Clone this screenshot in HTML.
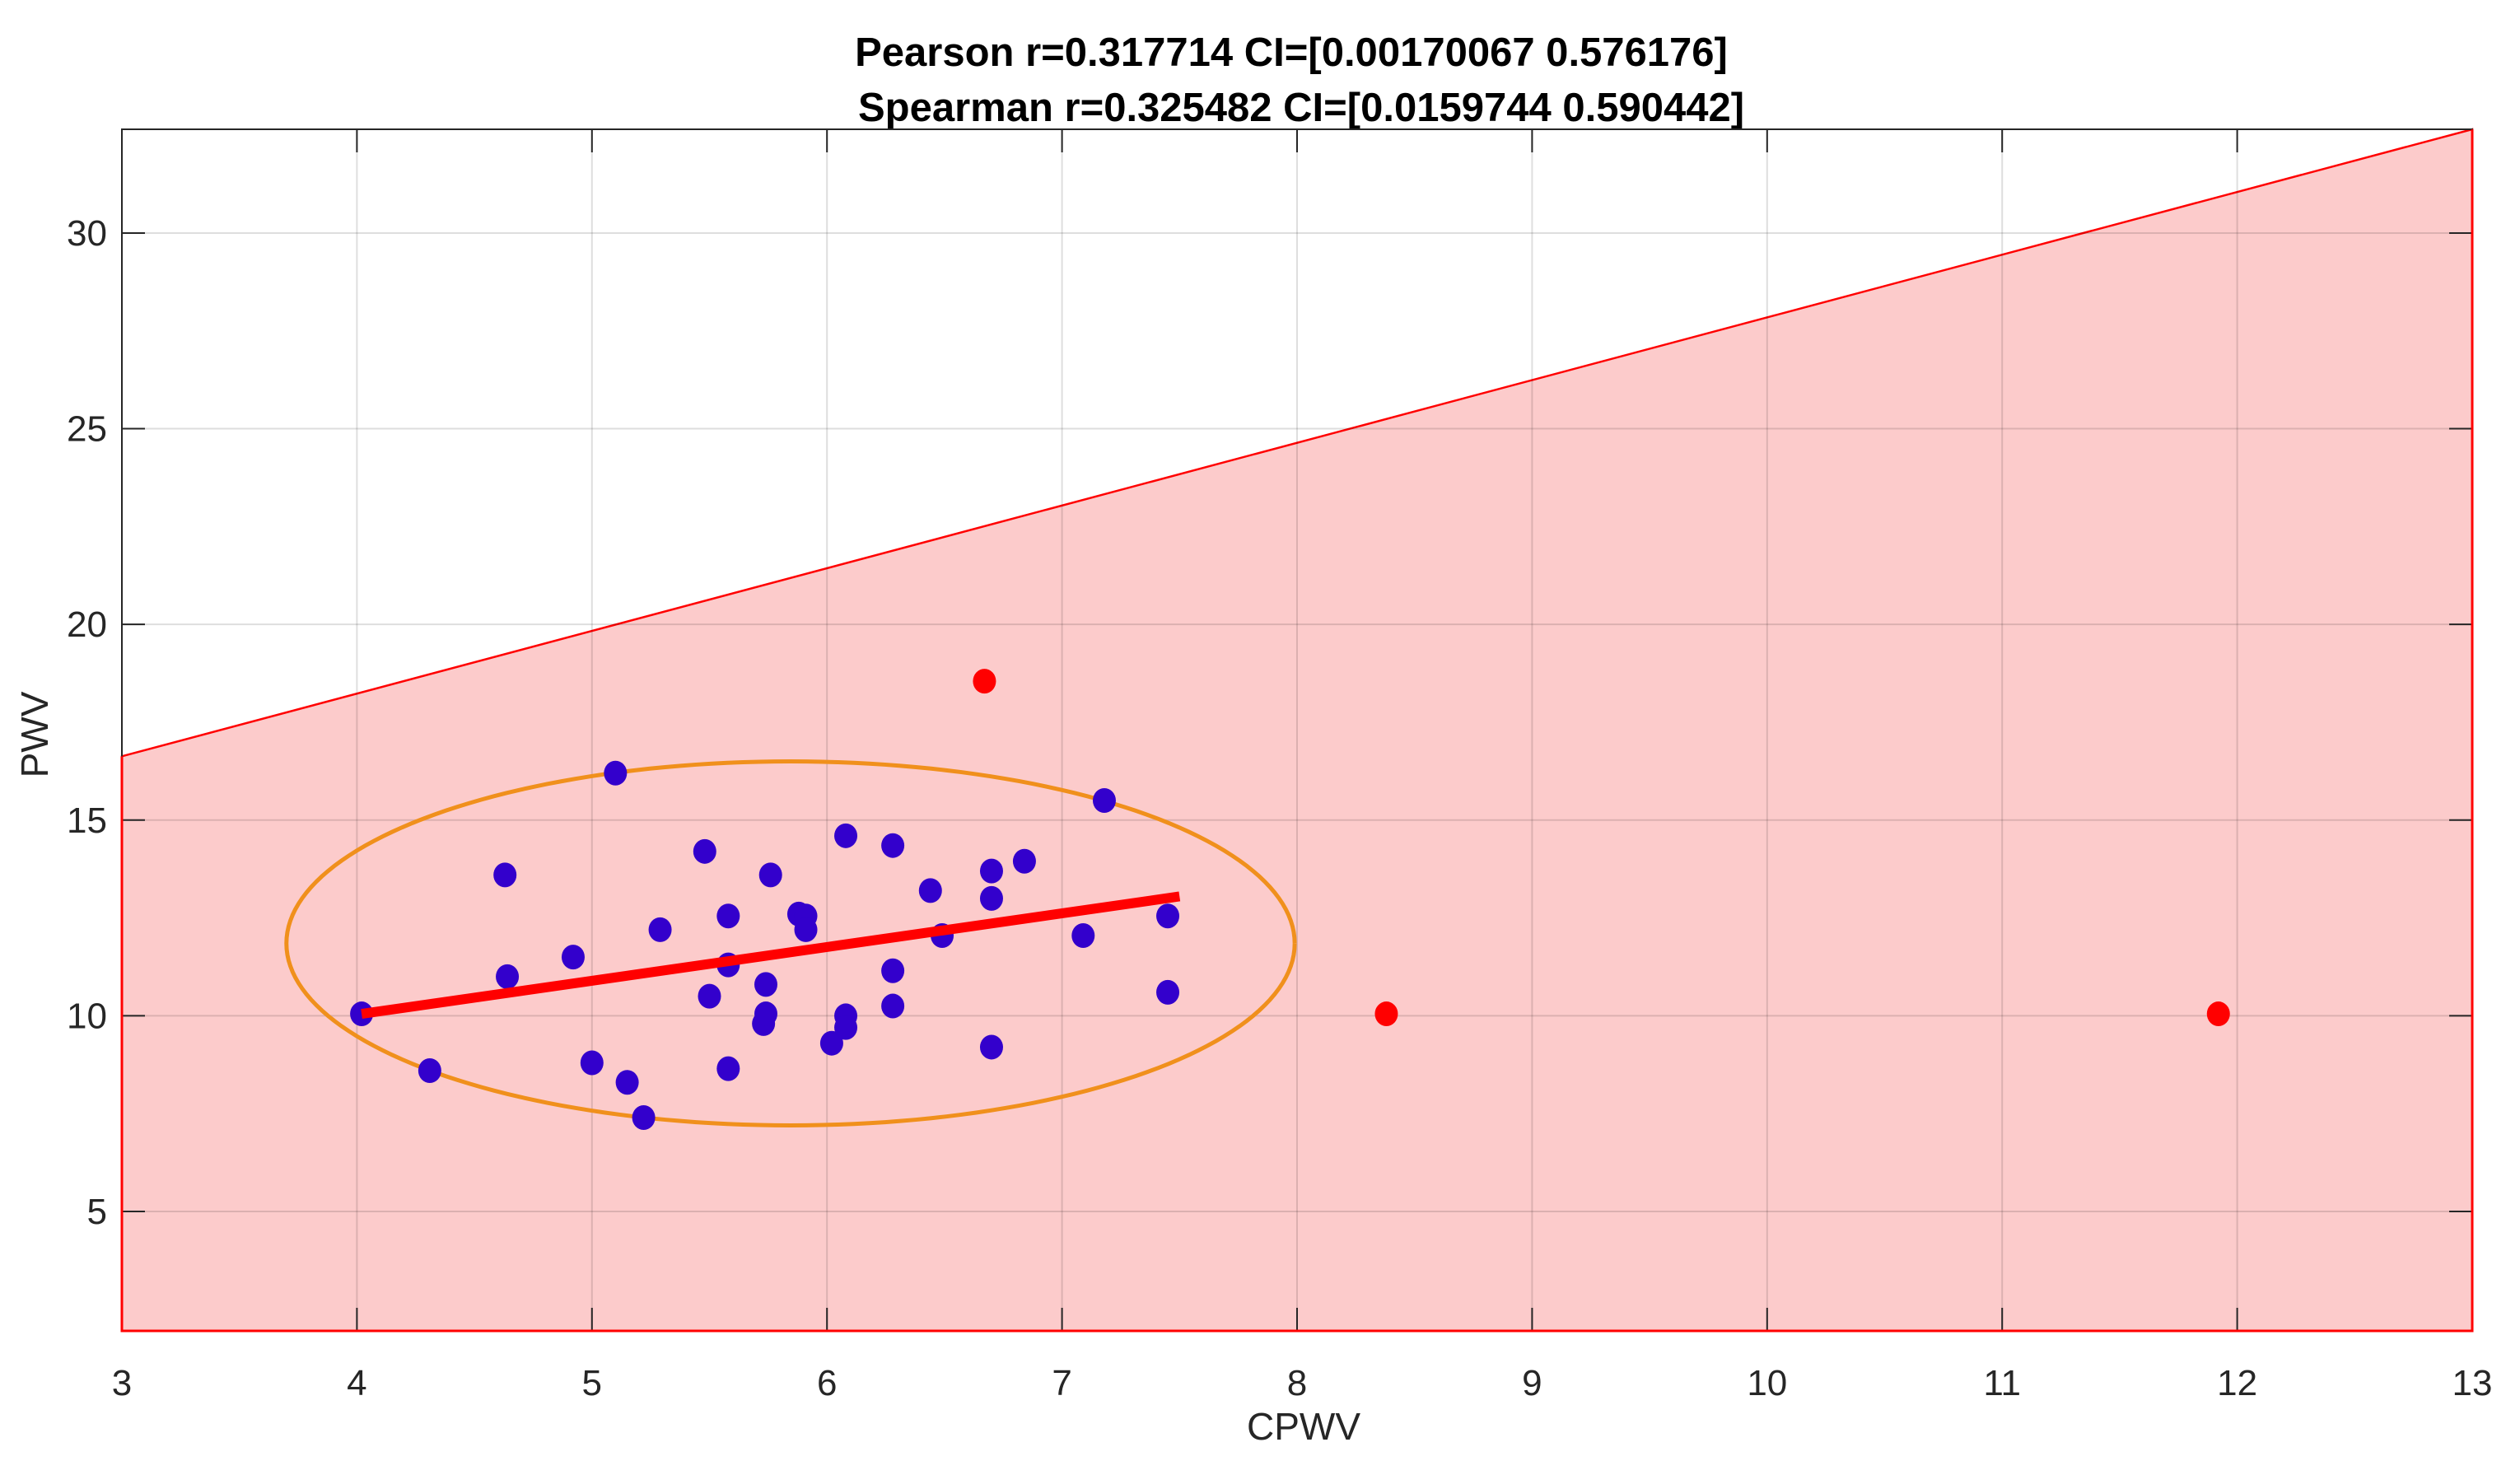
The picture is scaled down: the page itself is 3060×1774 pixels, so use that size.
<!DOCTYPE html>
<html><head><meta charset="utf-8"><style>
html,body{margin:0;padding:0;background:#fff;}
svg{display:block;font-family:"Liberation Sans",Arial,sans-serif;}
</style></head><body>
<svg id="chart" width="3060" height="1774" viewBox="0 0 3060 1774" xmlns="http://www.w3.org/2000/svg">
<g id="title" font-weight="bold" font-size="49" fill="#000" text-anchor="middle">
<text x="1568" y="80">Pearson r=0.317714 CI=[0.00170067 0.576176]</text>
<text x="1580" y="147">Spearman r=0.325482 CI=[0.0159744 0.590442]</text>
</g>
<g id="layer"></g>
</svg>
<script>
const xTicks=[3,4,5,6,7,8,9,10,11,12,13];
const yTicks=[5,10,15,20,25,30];
const blueX=[4.02,4.31,4.63,4.64,4.92,5.0,5.1,5.15,5.22,5.29,5.48,5.5,5.58,5.58,5.58,5.73,5.74,5.74,5.76,5.88,5.91,5.91,6.02,6.08,6.08,6.08,6.28,6.28,6.28,6.44,6.49,6.7,6.7,6.7,6.84,7.09,7.18,7.45,7.45];
const blueY=[10.05,8.6,13.6,11.0,11.5,8.8,16.2,8.3,7.4,12.2,14.2,10.5,12.55,11.3,8.65,9.8,10.8,10.05,13.6,12.6,12.55,12.2,9.3,14.6,10.0,9.7,14.35,11.15,10.25,13.2,12.05,13.7,13.0,9.2,13.95,12.05,15.5,12.55,10.6];
const outX=[6.67,8.38,11.92];
const outY=[18.55,10.05,10.05];
const fitX=[4.02,7.5];
const fitY=[10.05,13.05];
const ellipseCenter=[5.845,11.85];
const ellipseRadii=[2.145,4.65];
const bandX=[3,13];
const bandTopY=[16.63,32.65];
const xMin=3,xMax=13,yMin=1.95,yMax=32.65;
const L=148,R=3002,T=157,B=1616;
function sx(v){return L+(v-xMin)/(xMax-xMin)*(R-L);}
function sy(v){return B-(v-yMin)/(yMax-yMin)*(B-T);}
const NS='http://www.w3.org/2000/svg';
const layer=document.getElementById('layer');
function mk(tag,attrs,parent){const e=document.createElementNS(NS,tag);for(const k in attrs)e.setAttribute(k,attrs[k]);(parent||layer).appendChild(e);return e;}
const bg=mk('rect',{x:L,y:T,width:R-L,height:B-T,fill:'#fff'});


const band=mk('polygon',{points:`${sx(bandX[0])},${sy(bandTopY[0])} ${sx(bandX[1])},${sy(bandTopY[1])} ${sx(bandX[1])},${sy(yMin)} ${sx(bandX[0])},${sy(yMin)}`,fill:'#fccbcb',stroke:'#ff0000','stroke-width':2.5});


xTicks.forEach(t=>{const g=mk('line',{x1:sx(t),x2:sx(t),y1:T,y2:B,stroke:'#000','stroke-opacity':0.13,'stroke-width':2});

});
yTicks.forEach(t=>{const g=mk('line',{x1:L,x2:R,y1:sy(t),y2:sy(t),stroke:'#000','stroke-opacity':0.13,'stroke-width':2});

});
const box=mk('rect',{x:L,y:T,width:R-L,height:B-T,fill:'none',stroke:'#262626','stroke-width':2});


xTicks.forEach(t=>{
 mk('line',{x1:sx(t),x2:sx(t),y1:B,y2:B-28,stroke:'#262626','stroke-width':2});
 mk('line',{x1:sx(t),x2:sx(t),y1:T,y2:T+28,stroke:'#262626','stroke-width':2});
 const tx=mk('text',{x:sx(t),y:1694,'font-size':44,'text-anchor':'middle',fill:'#262626'});tx.textContent=t;
 
 
});
yTicks.forEach(t=>{
 mk('line',{x1:L,x2:L+28,y1:sy(t),y2:sy(t),stroke:'#262626','stroke-width':2});
 mk('line',{x1:R,x2:R-28,y1:sy(t),y2:sy(t),stroke:'#262626','stroke-width':2});
 const tx=mk('text',{x:130,y:sy(t)+15,'font-size':44,'text-anchor':'end',fill:'#262626'});tx.textContent=t;
 
 
});
const edge=mk('polyline',{points:`${sx(bandX[0])},${sy(bandTopY[0])} ${sx(bandX[0])},${sy(yMin)} ${sx(bandX[1])},${sy(yMin)} ${sx(bandX[1])},${sy(bandTopY[1])}`,fill:'none',stroke:'#ff0000','stroke-width':3});


let pts=[];for(let i=0;i<=200;i++){const a=i/200*2*Math.PI;pts.push(sx(ellipseCenter[0]+ellipseRadii[0]*Math.cos(a))+','+sy(ellipseCenter[1]+ellipseRadii[1]*Math.sin(a)));}
const el=mk('polyline',{points:pts.join(' '),fill:'none',stroke:'#f0901c','stroke-width':5});


blueX.forEach((v,i)=>{const c=mk('ellipse',{cx:sx(v),cy:sy(blueY[i]),rx:14,ry:15,fill:'#3300cc'});

});
const fl=mk('line',{x1:sx(fitX[0]),y1:sy(fitY[0]),x2:sx(fitX[1]),y2:sy(fitY[1]),stroke:'#ff0000','stroke-width':12});


outX.forEach((v,i)=>{const c=mk('ellipse',{cx:sx(v),cy:sy(outY[i]),rx:14,ry:15,fill:'#ff0000'});

});
const xt=mk('text',{x:1583,y:1748,'font-size':46,'text-anchor':'middle',fill:'#262626'});xt.textContent='CPWV';


const yt=mk('text',{x:0,y:0,'font-size':46,'text-anchor':'middle',fill:'#262626',transform:'translate(58,892) rotate(-90)'});yt.textContent='PWV';


</script>
</body></html>
